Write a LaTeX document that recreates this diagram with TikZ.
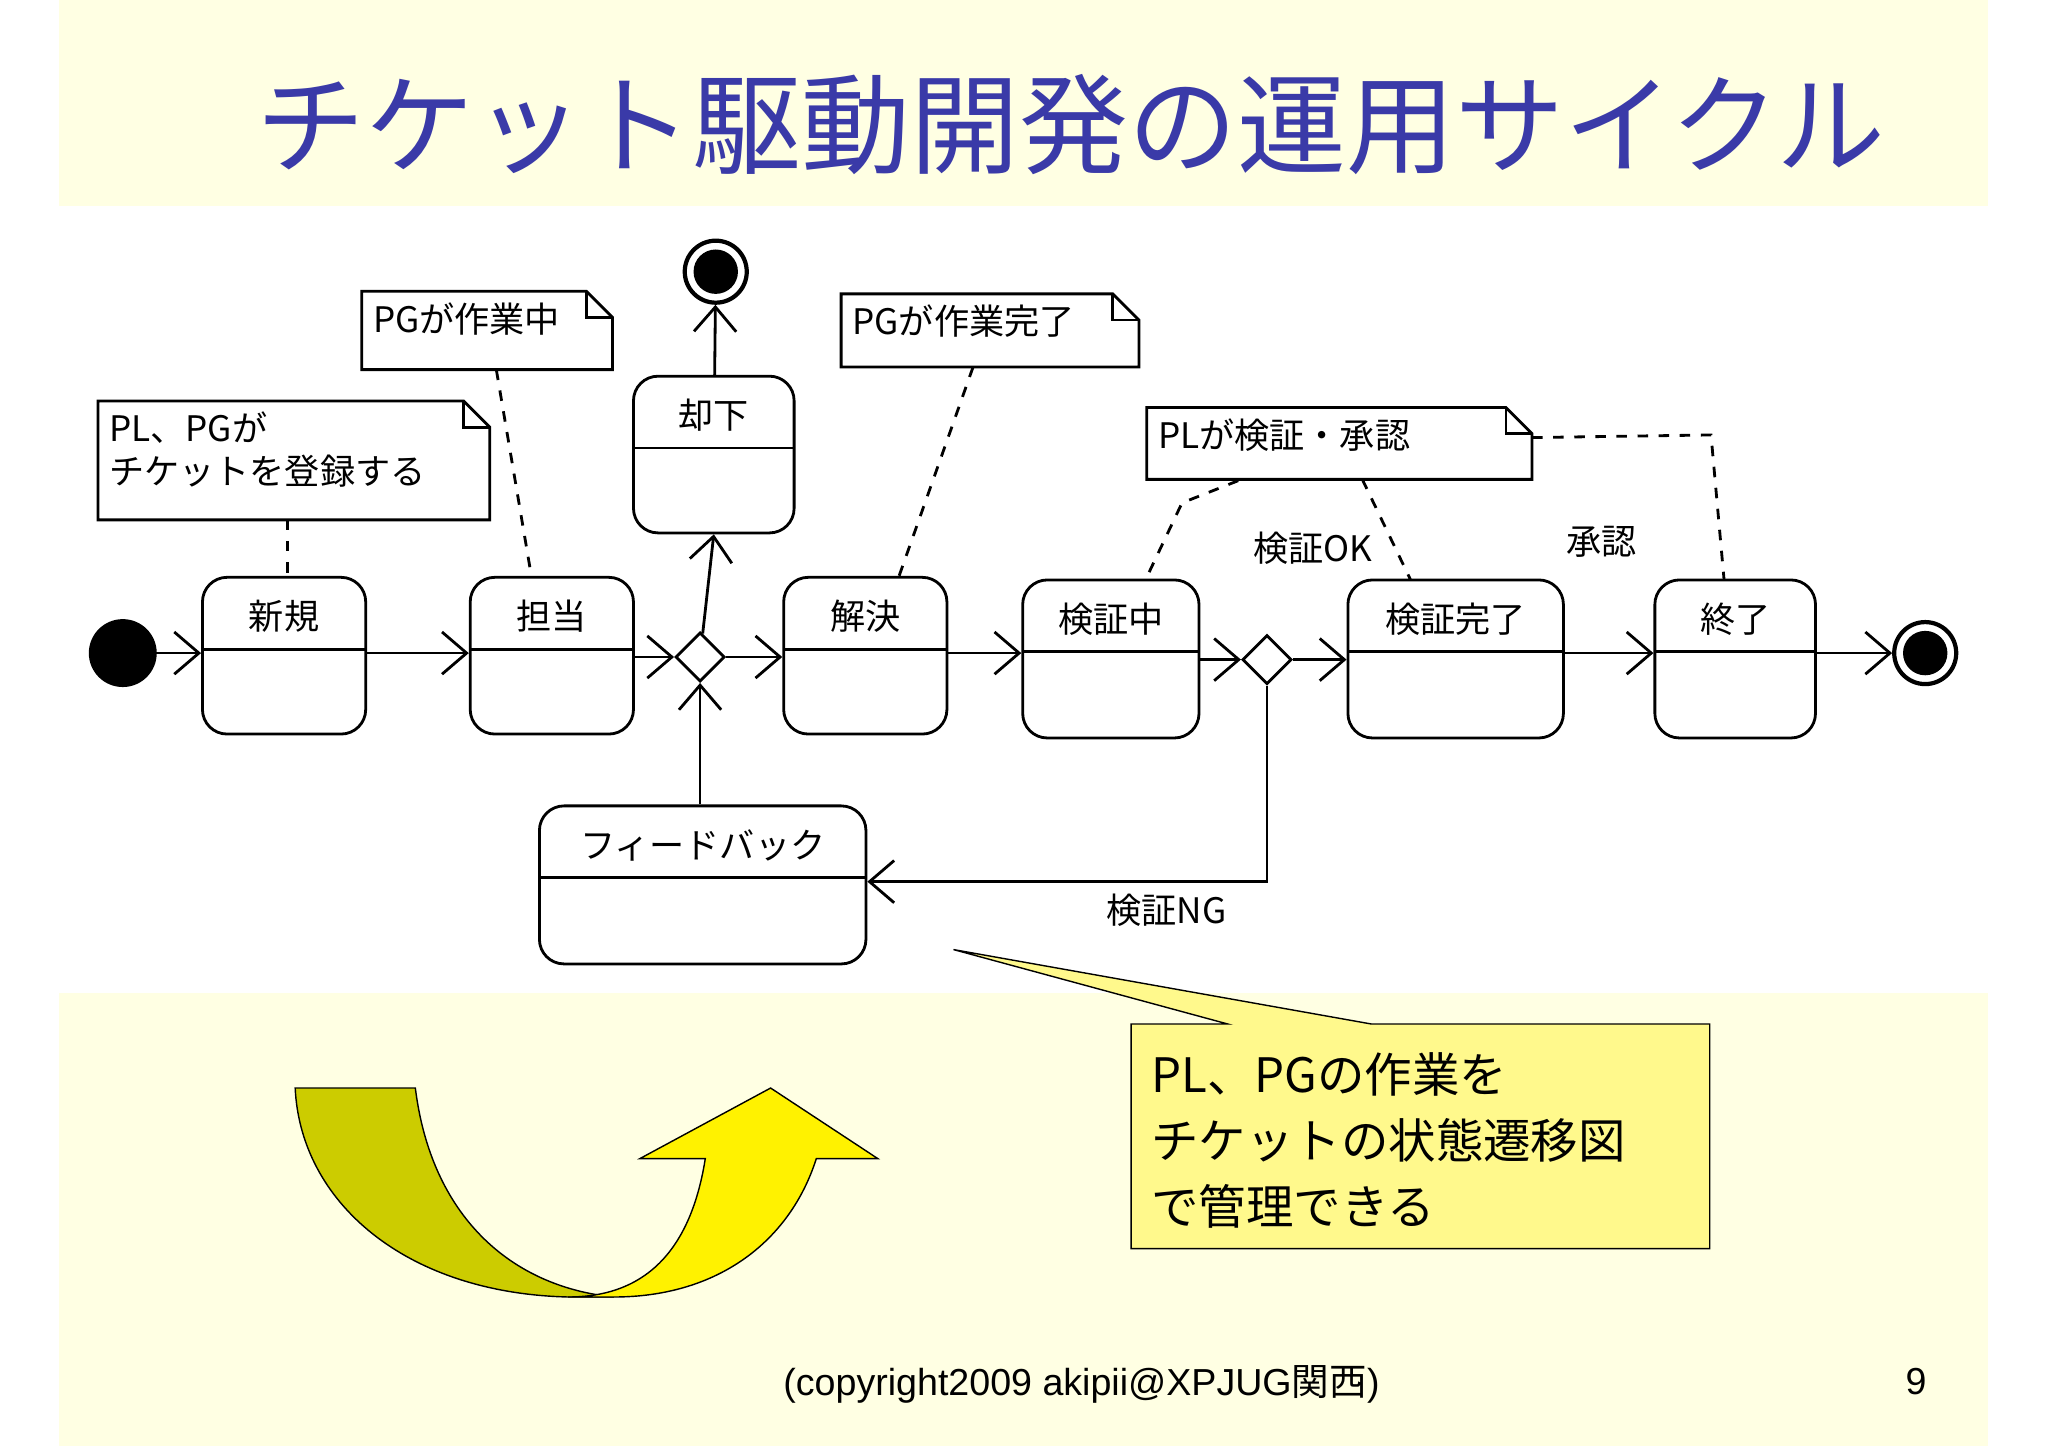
\documentclass[tikz,border=0pt]{standalone}
\usepackage{fontspec}
\setmainfont{Liberation Sans}
\newfontfamily\jp{Noto Sans CJK JP}
\usetikzlibrary{arrows.meta,fit,shapes.geometric}
\definecolor{bgyellow}{HTML}{FFFFE3}
\definecolor{titleblue}{HTML}{3A3AA8}
\definecolor{olive}{HTML}{CCCC00}
\tikzset{
  state/.style={draw,thick,rounded corners=7pt,inner sep=0pt},
  lbl/.style={font=\jp\fontsize{10}{12}\selectfont},
  flow/.style={-{Straight Barb[length=7pt,width=12pt]},thick},
  note/.style={dashed,thick},
  choice/.style={draw,thick,diamond,fill=white,minimum size=14pt,inner sep=0pt}
}
\newcommand{\statebox}[6]{%
  \node[state,fit={(#2,#3)(#4,#5)}] (#1) {};
  \draw[thick] (#2,#3+55) -- (#4,#3+55);
  \node[lbl] at ({(#2+#4)/2},#3+30) {#6};}
\newcommand{\notebox}[6]{%
  \draw[thick,fill=white] (#2,#3) -- (#4-20,#3) -- (#4,#3+20) -- (#4,#5) -- (#2,#5) -- cycle;
  \draw[thick] (#4-20,#3) -- (#4-20,#3+20) -- (#4,#3+20);
  \node[lbl,anchor=north west,align=left,inner sep=3pt] (#1) at (#2,#3) {#6};}
\begin{document}
\begin{tikzpicture}[x=0.01306cm,y=-0.01306cm]
\useasboundingbox (0,0) rectangle (1568,1107);
% background
\fill[bgyellow] (45,0) rectangle (1522,1107);
\fill[white] (45,158) rectangle (1522,760);
\node[text=titleblue,font=\jp\fontsize{31}{34}\selectfont] (title) at (820,95) {チケット駆動開発の運用サイクル};
% states
\statebox{sNew}{155}{442}{280}{562}{新規}
\statebox{sAssign}{360}{442}{485}{562}{担当}
\statebox{sReject}{485}{288}{608}{408}{却下}
\statebox{sSolve}{600}{442}{725}{562}{解決}
\statebox{sCheck}{783}{444}{918}{565}{検証中}
\statebox{sOK}{1032}{444}{1197}{565}{検証完了}
\statebox{sEnd}{1267}{444}{1390}{565}{終了}
\statebox{sBack}{413}{617}{663}{738}{フィードバック}
\fill (94,500) circle (26) coordinate (start);
\node[circle,draw,very thick,inner sep=0pt,minimum size=0.62cm] (stop) at (1474,500) {};
\fill (stop) circle (17);
\node[circle,draw,very thick,inner sep=0pt,minimum size=0.62cm] (stopR) at (548,208) {};
\fill (stopR) circle (17);
\node[choice] (dA) at (536,503) {};
\node[choice] (dB) at (970,505) {};
% transitions
\draw[flow] (start) -- (sNew.west|-start);
\draw[flow] (sNew.east|-start) -- (sAssign.west|-start);
\draw[flow] (sAssign.east|-dA) -- (dA);
\draw[flow] (dA) -- (sSolve.west|-dA);
\draw[flow] (dA) -- (sReject.south);
\draw[flow] (sReject) -- (stopR);
\draw[flow] (sBack.north-|dA) -- (dA);
\draw[flow] (sSolve.east|-start) -- (sCheck.west|-start);
\draw[flow] (sCheck.east|-dB) -- (dB);
\draw[flow] (dB) -- (sOK.west|-dB);
\draw[flow] (sOK.east|-start) -- (sEnd.west|-start);
\draw[flow] (sEnd.east|-start) -- (stop);
\draw[flow] (dB) |- (sBack.east|-0,675);
\node[lbl] (lNG) at (893,697) {検証NG};
\node[lbl] (lOK) at (1005,420) {検証OK};
\node[lbl] (lApp) at (1226,415) {承認};
% notes
\notebox{nReg}{75}{307}{375}{398}{PL、PGが\\チケットを登録する}
\notebox{nWork}{277}{223}{469}{283}{PGが作業中}
\notebox{nDone}{644}{225}{872}{281}{PGが作業完了}
\notebox{nCheck}{878}{312}{1173}{367}{PLが検証・承認}
\draw[note] (220,398) -- (sNew.north-|220,0);
\draw[note] (380,283) -- (407,442);
\draw[note] (745,281) -- (688,442);
\draw[note] (948,368) -- (905,385) -- (877,444);
\draw[note] (1043,367) -- (1080,444);
\draw[note] (1173,335) -- (1310,333) -- (1320,444);
% callout
\draw[fill=yellow!45] (866,784) -- (940,784) -- (730,727) -- (1050,784) -- (1309,784) -- (1309,956) -- (866,956) -- cycle;
\node[anchor=north west,align=left,font=\jp\fontsize{13.5}{18.8}\selectfont] (callout) at (872,796) {PL、PGの作業を\\チケットの状態遷移図\\で管理できる};
% curved arrow
\draw[fill=olive] (226,833) -- (318,833) .. controls (330,930) and (390,985) .. (470,993) -- (435,993) .. controls (310,990) and (230,920) .. cycle;
\draw[fill=yellow] (435,993) .. controls (500,993) and (530,950) .. (540,887) -- (490,887) -- (590,833) -- (672,887) -- (625,887) .. controls (605,950) and (550,993) .. (470,993) -- cycle;
% footer
\node[font=\fontsize{10.7}{13}\selectfont] (copy) at (828,1060) {(copyright2009 akipii@XPJUG{\jp 関西})};
\node[font=\fontsize{10.7}{13}\selectfont] (page) at (1467,1058) {9};
\end{tikzpicture}
\end{document}
